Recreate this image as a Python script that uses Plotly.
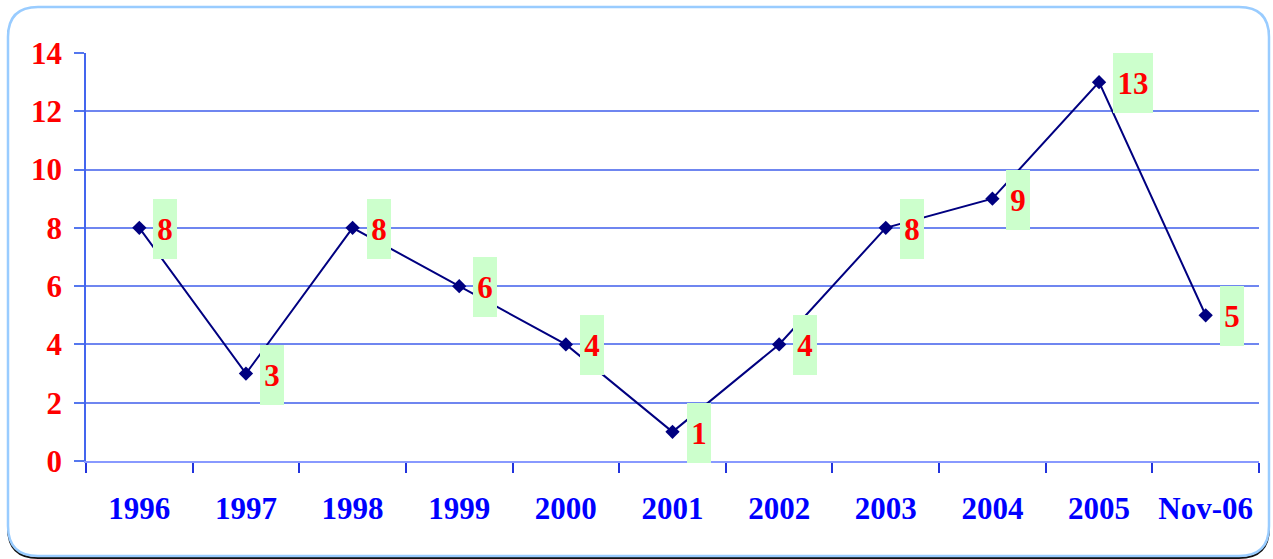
import plotly.graph_objects as go

categories = ["1996", "1997", "1998", "1999", "2000", "2001", "2002", "2003", "2004", "2005", "Nov-06"]
values = [8, 3, 8, 6, 4, 1, 4, 8, 9, 13, 5]
y_ticks = [0, 2, 4, 6, 8, 10, 12, 14]

W, H = 1273, 559
L, R, T, B = 86, 14, 53, 98
PW, PH = W - L - R, H - T - B

def px(x):
    return (x - L) / PW

def py(y):
    return (H - B - y) / PH

fig = go.Figure()
fig.add_trace(go.Scatter(
    x=categories, y=values, mode="lines+markers",
    line=dict(color="#000080", width=2),
    marker=dict(symbol="diamond", size=11, color="#000080"),
    hoverinfo="skip", showlegend=False,
))

font_serif = "Liberation Serif, Times New Roman, serif"
for i, (c, v) in enumerate(zip(categories, values)):
    txt = str(v)
    fig.add_annotation(
        x=i, y=v, xref="x", yref="y", text="<b>%s</b>" % txt,
        showarrow=False, xanchor="left", yanchor="middle",
        xshift=14, yshift=-1,
        bgcolor="#ccffcc", borderpad=0, borderwidth=0,
        width=24 if len(txt) == 1 else 40, height=60,
        font=dict(family=font_serif, size=31, color="#ff0000"),
    )

def rounded(x0, y0, x1, y1, r):
    def P(x, y):
        return "%f,%f" % (px(x), py(y))
    return "M %s L %s Q %s %s L %s Q %s %s L %s Q %s %s L %s Q %s %s Z" % (
        P(x0 + r, y0), P(x1 - r, y0), P(x1, y0), P(x1, y0 + r),
        P(x1, y1 - r), P(x1, y1), P(x1 - r, y1),
        P(x0 + r, y1), P(x0, y1), P(x0, y1 - r),
        P(x0, y0 + r), P(x0, y0), P(x0 + r, y0))

fig.add_shape(type="path", path=rounded(8, 9, 1269, 558, 30), xref="paper", yref="paper",
              line=dict(color="#111111", width=2), layer="below")
fig.add_shape(type="path", path=rounded(8, 7, 1269, 556, 30), xref="paper", yref="paper",
              line=dict(color="#99ccff", width=2.5), fillcolor="white", layer="below")

fig.update_layout(
    width=W, height=H,
    margin=dict(l=L, r=R, t=T, b=B),
    paper_bgcolor="white", plot_bgcolor="rgba(0,0,0,0)",
    showlegend=False,
)
fig.update_xaxes(
    type="category", tickmode="array", tickvals=categories, ticktext=categories,
    tickson="boundaries", ticks="outside", ticklen=10, tickcolor="#2233dd", tickwidth=1.5,
    showline=True, linecolor="#8899ff", linewidth=2, showgrid=False, zeroline=False,
    tickfont=dict(family=font_serif, size=31, color="#0000ff", weight="bold"),
    ticklabelstandoff=19, range=[-0.5, 10.5], fixedrange=True,
)
fig.update_yaxes(
    range=[0, 14], tickmode="array", tickvals=y_ticks, ticktext=[str(t) for t in y_ticks],
    ticks="outside", ticklen=10, tickcolor="#5577ee", tickwidth=1.5,
    showline=True, linecolor="#4466ee", linewidth=1.5,
    showgrid=True, gridcolor="#6f86f0", gridwidth=1.5, zeroline=False,
    tickfont=dict(family=font_serif, size=31, color="#ff0000", weight="bold"),
    ticklabelstandoff=6, fixedrange=True,
)

fig.write_html("out.html", config={"displayModeBar": False},
               post_script="document.body.style.margin='0';document.body.style.overflow='hidden';")
